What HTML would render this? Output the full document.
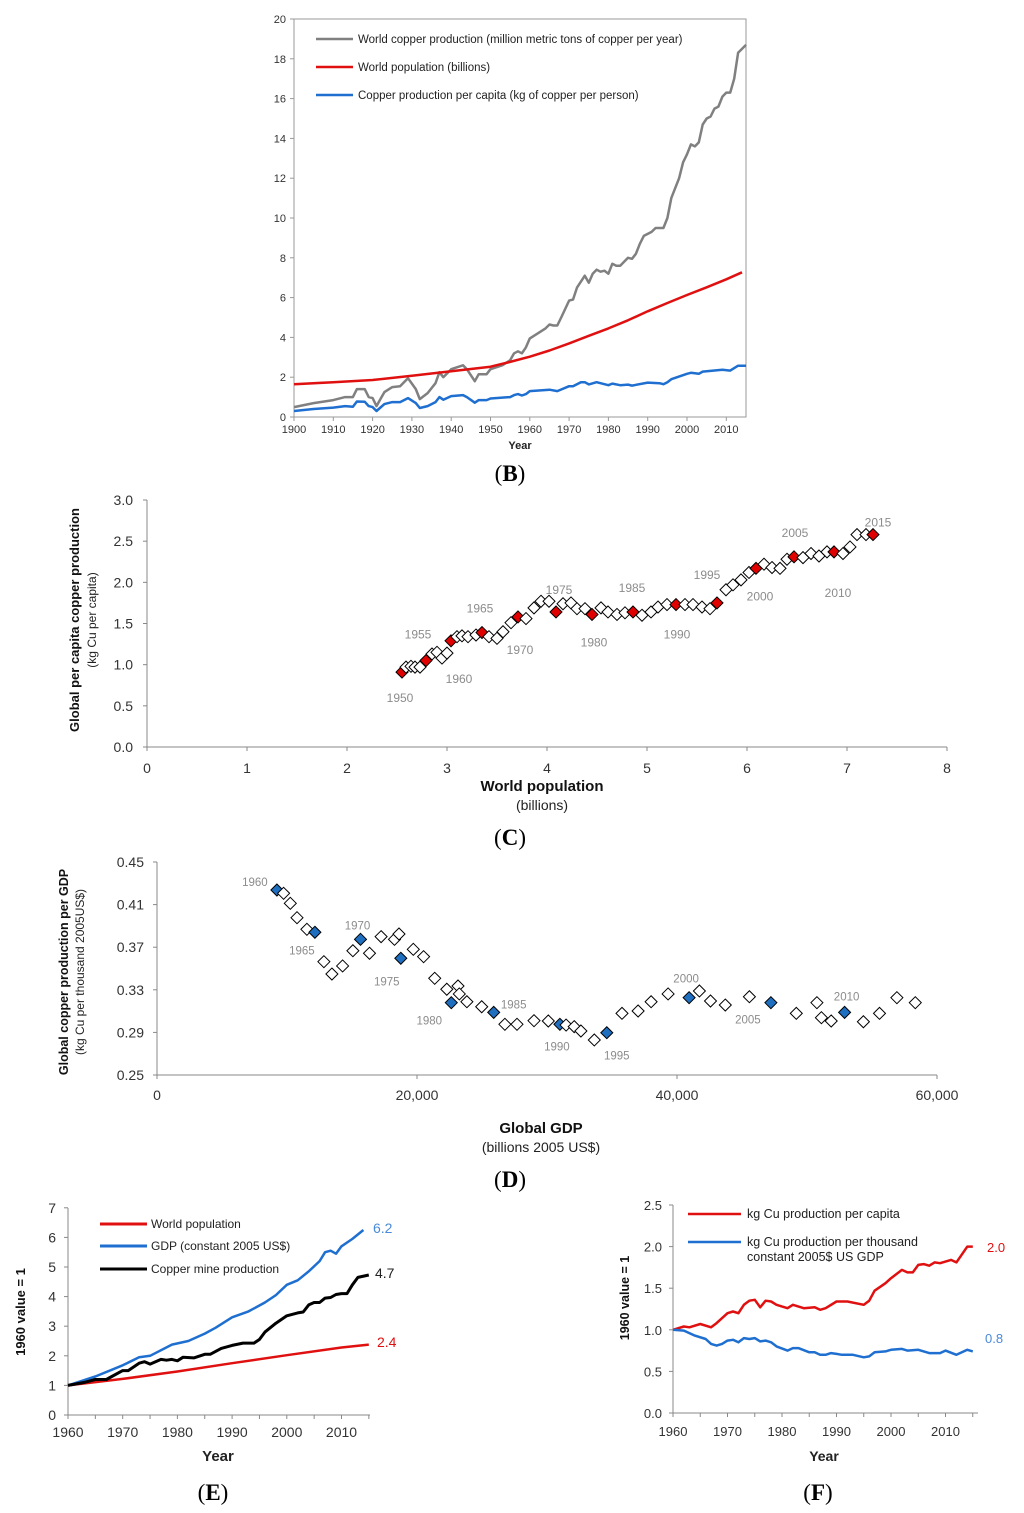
<!DOCTYPE html>
<html><head><meta charset="utf-8"><style>
html,body{margin:0;padding:0;background:#fff;}
svg{display:block;font-family:"Liberation Sans",sans-serif;}
</style></head><body>
<svg id="fig" width="1024" height="1513" viewBox="0 0 1024 1513"></svg>
<script>
// ===== Panel B data =====
const bCopperYears=[1900,1905,1910,1913,1915,1916,1918,1919,1920,1921,1923,1925,1927,1929,1931,1932,1934,1936,1937,1938,1940,1943,1944,1946,1947,1949,1950,1953,1955,1956,1957,1958,1959,1960,1962,1964,1965,1966,1967,1968,1970,1971,1972,1974,1975,1976,1977,1978,1979,1980,1981,1982,1983,1985,1986,1987,1988,1989,1991,1992,1994,1995,1996,1998,1999,2000,2001,2002,2003,2004,2005,2006,2007,2008,2009,2010,2011,2012,2013,2015];
const bCopper=[0.5,0.7,0.85,1.0,1.0,1.4,1.4,1.0,0.95,0.55,1.25,1.5,1.55,1.95,1.4,0.9,1.2,1.7,2.25,2.0,2.4,2.6,2.4,1.8,2.15,2.15,2.4,2.6,2.85,3.2,3.3,3.2,3.5,3.95,4.2,4.45,4.65,4.6,4.6,5.0,5.85,5.9,6.5,7.1,6.75,7.2,7.4,7.3,7.35,7.2,7.7,7.6,7.6,8.0,7.95,8.2,8.7,9.1,9.3,9.5,9.5,10.0,11.0,12.0,12.8,13.2,13.7,13.6,13.8,14.7,15.0,15.1,15.5,15.6,16.1,16.3,16.3,17.0,18.3,18.7];
const bPopYears=[1900,1910,1920,1930,1940,1950,1955,1960,1965,1970,1975,1980,1985,1990,1995,2000,2005,2010,2014];
const bPop=[1.65,1.75,1.86,2.07,2.3,2.53,2.77,3.03,3.34,3.70,4.08,4.45,4.86,5.31,5.73,6.13,6.52,6.92,7.27];
const bPcYears=[1900,1905,1910,1913,1915,1916,1918,1919,1920,1921,1923,1925,1927,1929,1931,1932,1934,1936,1937,1938,1940,1943,1944,1946,1947,1949,1950,1955,1956,1957,1958,1959,1960,1965,1967,1970,1971,1973,1974,1975,1977,1980,1981,1983,1985,1986,1990,1993,1994,1995,1996,2000,2001,2003,2004,2005,2009,2011,2013,2015];
const bPc=[0.3,0.4,0.47,0.55,0.52,0.78,0.77,0.55,0.5,0.3,0.65,0.75,0.75,0.95,0.7,0.45,0.55,0.75,1.0,0.87,1.05,1.1,1.0,0.72,0.85,0.85,0.93,1.0,1.1,1.15,1.08,1.15,1.3,1.37,1.3,1.55,1.55,1.75,1.75,1.64,1.75,1.6,1.68,1.6,1.63,1.58,1.73,1.70,1.65,1.75,1.9,2.17,2.22,2.17,2.28,2.3,2.37,2.33,2.58,2.58];
const bXTicks=[1900,1910,1920,1930,1940,1950,1960,1970,1980,1990,2000,2010];
const bYTicks=[0,2,4,6,8,10,12,14,16,18,20];

// ===== Panel C data =====
const cYears=[1950,1951,1952,1953,1954,1955,1956,1957,1958,1959,1960,1961,1962,1963,1964,1965,1966,1967,1968,1969,1970,1971,1972,1973,1974,1975,1976,1977,1978,1979,1980,1981,1982,1983,1984,1985,1986,1987,1988,1989,1990,1991,1992,1993,1994,1995,1996,1997,1998,1999,2000,2001,2002,2003,2004,2005,2006,2007,2008,2009,2010,2011,2012,2013,2014,2015];
const cPop=[2.55,2.59,2.64,2.68,2.73,2.79,2.85,2.90,2.95,3.00,3.04,3.10,3.15,3.21,3.29,3.35,3.42,3.50,3.56,3.64,3.71,3.79,3.87,3.94,4.02,4.09,4.16,4.24,4.30,4.38,4.45,4.54,4.61,4.70,4.78,4.86,4.95,5.04,5.11,5.20,5.29,5.38,5.46,5.55,5.63,5.70,5.79,5.86,5.94,6.02,6.09,6.17,6.25,6.33,6.40,6.47,6.56,6.64,6.72,6.80,6.87,6.96,7.03,7.10,7.19,7.26];
const cPerCap=[0.91,0.97,0.98,0.97,0.97,1.05,1.13,1.15,1.08,1.14,1.29,1.34,1.35,1.34,1.36,1.39,1.34,1.32,1.40,1.51,1.58,1.56,1.69,1.77,1.77,1.64,1.74,1.75,1.68,1.68,1.61,1.69,1.64,1.61,1.63,1.64,1.60,1.64,1.70,1.73,1.73,1.73,1.73,1.70,1.68,1.75,1.91,1.97,2.03,2.12,2.17,2.22,2.18,2.17,2.28,2.31,2.30,2.35,2.32,2.37,2.37,2.35,2.43,2.58,2.58,2.58];
const cLabelYears=[1950,1955,1960,1965,1970,1975,1980,1985,1990,1995,2000,2005,2010,2015];
const cXTicks=[0,1,2,3,4,5,6,7,8];
const cYTicks=["0.0","0.5","1.0","1.5","2.0","2.5","3.0"];

// ===== Panel D data =====
const dYears=[1960,1961,1962,1963,1964,1965,1966,1967,1968,1969,1970,1971,1972,1973,1974,1975,1976,1977,1978,1979,1980,1981,1982,1983,1984,1985,1986,1987,1988,1989,1990,1991,1992,1993,1994,1995,1996,1997,1998,1999,2000,2001,2002,2003,2004,2005,2006,2007,2008,2009,2010,2011,2012,2013,2014];
const dGdp=[9223,9738,10254,10769,11531,12146,12838,13454,14277,15069,15654,16346,17238,18269,18615,18754,19715,20508,21362,22292,22638,23154,23254,23838,24977,25900,26762,27692,29000,30100,30992,31469,32092,32608,33638,34600,35769,37008,38008,39315,40931,41723,42577,43715,45569,47223,49177,50762,51108,51862,52892,54338,55577,56915,58331];
const dPerGdp=[0.4237,0.4206,0.4112,0.3977,0.3868,0.3840,0.3564,0.3448,0.3524,0.3667,0.3774,0.3643,0.3799,0.3774,0.3824,0.3596,0.3680,0.3611,0.3408,0.3305,0.3179,0.3336,0.3261,0.3188,0.3141,0.3088,0.2976,0.2976,0.3010,0.3007,0.2976,0.2969,0.2954,0.2913,0.2829,0.2897,0.3079,0.3101,0.3188,0.3261,0.3226,0.3289,0.3195,0.3157,0.3235,0.3179,0.3079,0.3179,0.3038,0.3007,0.3088,0.3000,0.3079,0.3226,0.3179];
const dLabelYears=[1960,1965,1970,1975,1980,1985,1990,1995,2000,2005,2010];
const dXTicks=[0,20000,40000,60000];
const dXTickLabels=["0","20,000","40,000","60,000"];
const dYTicks=["0.25","0.29","0.33","0.37","0.41","0.45"];

// ===== Panel E data =====
const eGdpYears=[1960,1965,1970,1973,1975,1979,1982,1985,1987,1990,1993,1996,1998,2000,2002,2004,2006,2007,2008,2009,2010,2012,2014];
const eGdp=[1,1.3,1.68,1.95,2.0,2.38,2.5,2.75,2.95,3.3,3.5,3.8,4.05,4.4,4.55,4.85,5.2,5.5,5.55,5.45,5.7,5.95,6.25];
const eCuYears=[1960,1963,1965,1967,1968,1970,1971,1973,1974,1975,1977,1978,1979,1980,1981,1983,1985,1986,1988,1990,1992,1994,1995,1996,1998,2000,2002,2003,2004,2005,2006,2007,2008,2009,2010,2011,2012,2013,2015];
const eCu=[1,1.1,1.2,1.2,1.3,1.5,1.5,1.75,1.8,1.72,1.88,1.85,1.88,1.83,1.95,1.93,2.05,2.05,2.25,2.35,2.43,2.43,2.55,2.8,3.1,3.35,3.45,3.48,3.72,3.8,3.8,3.95,3.97,4.07,4.1,4.1,4.4,4.65,4.73];
const ePopYears=[1960,1970,1980,1990,2000,2010,2015];
const ePop=[1,1.22,1.47,1.75,2.02,2.28,2.38];
const eEndLabels=["6.2","4.7","2.4"];
const eXTicks=[1960,1970,1980,1990,2000,2010];
const eYTicks=[0,1,2,3,4,5,6,7];

// ===== Panel F data =====
const fRedYears=[1960,1962,1963,1965,1967,1968,1970,1971,1972,1973,1974,1975,1976,1977,1978,1979,1981,1982,1984,1986,1987,1988,1990,1992,1995,1996,1997,1999,2000,2002,2003,2004,2005,2006,2007,2008,2009,2011,2012,2014,2015];
const fRed=[1,1.04,1.03,1.07,1.03,1.08,1.2,1.22,1.2,1.3,1.35,1.36,1.27,1.35,1.34,1.3,1.26,1.3,1.26,1.27,1.24,1.26,1.34,1.34,1.3,1.35,1.47,1.56,1.62,1.72,1.69,1.69,1.78,1.79,1.77,1.81,1.8,1.84,1.81,2.0,2.0];
const fBlueYears=[1960,1962,1964,1966,1967,1968,1969,1970,1971,1972,1973,1974,1975,1976,1977,1978,1979,1981,1982,1983,1985,1986,1987,1988,1989,1990,1991,1993,1995,1996,1997,1999,2000,2002,2003,2005,2007,2009,2010,2012,2014,2015];
const fBlue=[1,0.99,0.93,0.89,0.83,0.81,0.83,0.87,0.88,0.85,0.9,0.89,0.9,0.86,0.87,0.85,0.8,0.75,0.78,0.78,0.73,0.73,0.7,0.7,0.72,0.71,0.7,0.7,0.67,0.68,0.73,0.74,0.76,0.77,0.75,0.76,0.72,0.72,0.75,0.7,0.76,0.74];
const fEndLabels=["2.0","0.8"];
const fXTicks=[1960,1970,1980,1990,2000,2010];
const fYTicks=["0.0","0.5","1.0","1.5","2.0","2.5"];

const NS="http://www.w3.org/2000/svg";
const svg=document.getElementById('fig');
function mk(tag,attrs,parent,text){const e=document.createElementNS(NS,tag);for(const k in attrs)e.setAttribute(k,attrs[k]);if(text!==undefined)e.textContent=text;(parent||svg).appendChild(e);return e;}
function grp(name){const g=mk('g',{});return g;}
function txt(g,x,y,s,opts){const o=Object.assign({'font-size':11,fill:'#333','text-anchor':'middle'},opts||{});o.x=x;o.y=y;return mk('text',o,g,s);}
function line(g,xs,ys,sx,sy,color,w){let d='';for(let i=0;i<xs.length;i++){d+=(i?'L':'M')+sx(xs[i]).toFixed(1)+','+sy(ys[i]).toFixed(1);}return mk('path',{d:d,fill:'none',stroke:color,'stroke-width':w,'stroke-linejoin':'round'},g);}
function diamond(g,x,y,fill){return mk('polygon',{points:`${x},${y-6} ${x+6},${y} ${x},${y+6} ${x-6},${y}`,fill:fill,stroke:'#000','stroke-width':1},g);}
function panelLabel(x,y,letter,name){const g=grp(name);const t=mk('text',{x:x,y:y,'font-size':23,'font-family':'"Liberation Serif",serif','text-anchor':'middle',fill:'#000'},g);mk('tspan',{},t,'(');mk('tspan',{'font-weight':'bold'},t,letter);mk('tspan',{},t,')');}

// ===== Panel B =====
(function(){
const sx=v=>294+(v-1900)*3.93, sy=v=>417-v*19.9;
const g=grp('panel-b');
mk('rect',{x:294,y:19,width:452,height:398,fill:'none',stroke:'#999','stroke-width':1},g);
const ax=grp('panel-b-axes');g.appendChild(ax);
bYTicks.forEach(v=>{mk('line',{x1:290,x2:294,y1:sy(v),y2:sy(v),stroke:'#999'},ax);txt(ax,286,sy(v)+4,String(v),{'text-anchor':'end','font-size':11});});
bXTicks.forEach(v=>{mk('line',{x1:sx(v),x2:sx(v),y1:417,y2:421,stroke:'#999'},ax);txt(ax,sx(v),433,String(v),{'font-size':11});});
txt(ax,520,449,'Year',{'font-weight':'bold','font-size':11,fill:'#222'});
const s1=line(g,bCopperYears,bCopper,sx,sy,'#808080',2.5);
const s2=line(g,bPopYears,bPop,sx,sy,'#e01010',2.5);
const s3=line(g,bPcYears,bPc,sx,sy,'#1f6fd0',2.5);
const lg=grp('panel-b-legend');g.appendChild(lg);
[['#808080','World copper production (million metric tons of copper per year)',39],['#e01010','World population (billions)',67],['#1f6fd0','Copper production per capita (kg of copper per person)',95]].forEach(r=>{mk('line',{x1:316,x2:353,y1:r[2],y2:r[2],stroke:r[0],'stroke-width':2.5},lg);txt(lg,358,r[2]+4,r[1],{'text-anchor':'start','font-size':11.5,fill:'#222'});});
})();
panelLabel(510,481,'B','panel-b-label');

// ===== Panel C =====
(function(){
const sx=v=>147+v*100, sy=v=>747-v*82.33;
const g=grp('panel-c');
const ax=grp('panel-c-axes');g.appendChild(ax);
mk('line',{x1:147,x2:147,y1:500,y2:747,stroke:'#888'},ax);
mk('line',{x1:147,x2:947,y1:747,y2:747,stroke:'#888'},ax);
cYTicks.forEach(s=>{const v=parseFloat(s);mk('line',{x1:143,x2:147,y1:sy(v),y2:sy(v),stroke:'#888'},ax);txt(ax,133,sy(v)+5,s,{'text-anchor':'end','font-size':14,fill:'#333'});});
cXTicks.forEach(v=>{mk('line',{x1:sx(v),x2:sx(v),y1:747,y2:751,stroke:'#888'},ax);txt(ax,sx(v),773,String(v),{'font-size':14,fill:'#333'});});
txt(ax,542,791,'World population',{'font-weight':'bold','font-size':15,fill:'#111'});
txt(ax,542,810,'(billions)',{'font-size':14,fill:'#222'});
const yt=mk('g',{transform:'translate(79,620) rotate(-90)'},ax);
txt(yt,0,0,'Global per capita copper production',{'font-weight':'bold','font-size':13,fill:'#111'});
txt(yt,0,17,'(kg Cu per capita)',{'font-size':12,fill:'#222'});
const pts=grp('panel-c-points');g.appendChild(pts);
const labOff={1950:[-2,30],1955:[-8,-22],1960:[8,42],1965:[-2,-20],1970:[2,37],1975:[3,-18],1980:[2,32],1985:[-1,-20],1990:[1,34],1995:[-10,-24],2000:[4,32],2005:[1,-20],2010:[4,45],2015:[5,-8]};
cYears.forEach((yr,i)=>{const red=yr%5===0;const d=diamond(pts,sx(cPop[i]),sy(cPerCap[i]),red?'#e00000':'#fff');});
cYears.forEach((yr,i)=>{if(cLabelYears.indexOf(yr)>=0){const o=labOff[yr];const t=txt(pts,sx(cPop[i])+o[0],sy(cPerCap[i])+o[1],String(yr),{'font-size':12,fill:'#8c8c8c'});}});
})();
panelLabel(510,845,'C','panel-c-label');

// ===== Panel D =====
(function(){
const sx=v=>157+v*0.013, sy=v=>1075-(v-0.25)*1065;
const g=grp('panel-d');
const ax=grp('panel-d-axes');g.appendChild(ax);
mk('line',{x1:157,x2:157,y1:862,y2:1075,stroke:'#888'},ax);
mk('line',{x1:157,x2:937,y1:1075,y2:1075,stroke:'#888'},ax);
dYTicks.forEach(s=>{const v=parseFloat(s);mk('line',{x1:153,x2:157,y1:sy(v),y2:sy(v),stroke:'#888'},ax);txt(ax,144,sy(v)+5,s,{'text-anchor':'end','font-size':14,fill:'#333'});});
dXTicks.forEach((v,i)=>{mk('line',{x1:sx(v),x2:sx(v),y1:1075,y2:1079,stroke:'#888'},ax);txt(ax,sx(v),1100,dXTickLabels[i],{'font-size':14,fill:'#333'});});
txt(ax,541,1133,'Global GDP',{'font-weight':'bold','font-size':15,fill:'#111'});
txt(ax,541,1152,'(billions 2005 US$)',{'font-size':14,fill:'#222'});
const yt=mk('g',{transform:'translate(68,972) rotate(-90)'},ax);
txt(yt,0,0,'Global copper production per GDP',{'font-weight':'bold','font-size':12.5,fill:'#111'});
txt(yt,0,16,'(kg Cu per thousand 2005US$)',{'font-size':12,fill:'#222'});
const pts=grp('panel-d-points');g.appendChild(pts);
const labOff={1960:[-22,-4],1965:[-13,22],1970:[-3,-10],1975:[-14,27],1980:[-22,22],1985:[20,-4],1990:[-3,26],1995:[10,27],2000:[-3,-15],2005:[-23,21],2010:[2,-12]};
dYears.forEach((yr,i)=>{const blue=yr%5===0;const d=diamond(pts,sx(dGdp[i]),sy(dPerGdp[i]),blue?'#1f6fc0':'#fff');});
dYears.forEach((yr,i)=>{if(dLabelYears.indexOf(yr)>=0){const o=labOff[yr];const t=txt(pts,sx(dGdp[i])+o[0],sy(dPerGdp[i])+o[1],String(yr),{'font-size':11.5,fill:'#8c8c8c'});}});
})();
panelLabel(510,1187,'D','panel-d-label');

// ===== Panel E =====
(function(){
const sx=v=>68+(v-1960)*5.47, sy=v=>1415-v*29.6;
const g=grp('panel-e');
const ax=grp('panel-e-axes');g.appendChild(ax);
mk('line',{x1:68,x2:68,y1:1208,y2:1415,stroke:'#888'},ax);
mk('line',{x1:68,x2:370,y1:1415,y2:1415,stroke:'#888'},ax);
eYTicks.forEach(v=>{mk('line',{x1:64,x2:68,y1:sy(v),y2:sy(v),stroke:'#888'},ax);txt(ax,56,sy(v)+5,String(v),{'text-anchor':'end','font-size':14,fill:'#333'});});
for(let yy=1960;yy<=2015;yy+=5){mk('line',{x1:sx(yy),x2:sx(yy),y1:1415,y2:1419,stroke:'#888'},ax);}
eXTicks.forEach(v=>txt(ax,sx(v),1437,String(v),{'font-size':14,fill:'#333'}));
txt(ax,218,1461,'Year',{'font-weight':'bold','font-size':15,fill:'#222'});
const yt=mk('g',{transform:'translate(25,1312) rotate(-90)'},ax);
txt(yt,0,0,'1960 value = 1',{'font-weight':'bold','font-size':13,fill:'#111'});
const a=line(g,ePopYears,ePop,sx,sy,'#e01010',2.5);
const b=line(g,eGdpYears,eGdp,sx,sy,'#1f6fd0',2.5);
const c=line(g,eCuYears,eCu,sx,sy,'#000',3);
const lg=grp('panel-e-legend');g.appendChild(lg);
[['#e01010','World population',1224],['#1f6fd0','GDP (constant 2005 US$)',1246],['#000','Copper mine production',1269]].forEach(r=>{mk('line',{x1:100,x2:147,y1:r[2],y2:r[2],stroke:r[0],'stroke-width':3},lg);txt(lg,151,r[2]+4,r[1],{'text-anchor':'start','font-size':12,fill:'#222'});});
txt(g,373,1233,eEndLabels[0],{'text-anchor':'start','font-size':14,fill:'#4a8ad8'});
txt(g,375,1278,eEndLabels[1],{'text-anchor':'start','font-size':14,fill:'#222'});
txt(g,377,1347,eEndLabels[2],{'text-anchor':'start','font-size':14,fill:'#e01010'});
})();
panelLabel(213,1500,'E','panel-e-label');

// ===== Panel F =====
(function(){
const sx=v=>673+(v-1960)*5.45, sy=v=>1413-v*83.2;
const g=grp('panel-f');
const ax=grp('panel-f-axes');g.appendChild(ax);
mk('line',{x1:673,x2:673,y1:1205,y2:1413,stroke:'#888'},ax);
mk('line',{x1:673,x2:978,y1:1413,y2:1413,stroke:'#888'},ax);
fYTicks.forEach(s=>{const v=parseFloat(s);mk('line',{x1:669,x2:673,y1:sy(v),y2:sy(v),stroke:'#888'},ax);txt(ax,662,sy(v)+5,s,{'text-anchor':'end','font-size':13,fill:'#333'});});
for(let yy=1960;yy<=2015;yy+=5){mk('line',{x1:sx(yy),x2:sx(yy),y1:1413,y2:1417,stroke:'#888'},ax);}
fXTicks.forEach(v=>txt(ax,sx(v),1436,String(v),{'font-size':13,fill:'#333'}));
txt(ax,824,1461,'Year',{'font-weight':'bold','font-size':14,fill:'#222'});
const yt=mk('g',{transform:'translate(629,1298) rotate(-90)'},ax);
txt(yt,0,0,'1960  value = 1',{'font-weight':'bold','font-size':12.5,fill:'#111'});
const a=line(g,fRedYears,fRed,sx,sy,'#e01010',2.5);
const b=line(g,fBlueYears,fBlue,sx,sy,'#1f6fd0',2.5);
const lg=grp('panel-f-legend');g.appendChild(lg);
mk('line',{x1:688,x2:741,y1:1214,y2:1214,stroke:'#e01010','stroke-width':2.5},lg);
txt(lg,747,1218,'kg Cu production per capita',{'text-anchor':'start','font-size':12.5,fill:'#222'});
mk('line',{x1:688,x2:741,y1:1242,y2:1242,stroke:'#1f6fd0','stroke-width':2.5},lg);
txt(lg,747,1246,'kg Cu production per thousand',{'text-anchor':'start','font-size':12.5,fill:'#222'});
txt(lg,747,1261,'constant 2005$ US GDP',{'text-anchor':'start','font-size':12.5,fill:'#222'});
txt(g,987,1252,fEndLabels[0],{'text-anchor':'start','font-size':13,fill:'#e01010'});
txt(g,985,1343,fEndLabels[1],{'text-anchor':'start','font-size':13,fill:'#4a8ad8'});
})();
panelLabel(818,1500,'F','panel-f-label');
</script>
</body></html>
